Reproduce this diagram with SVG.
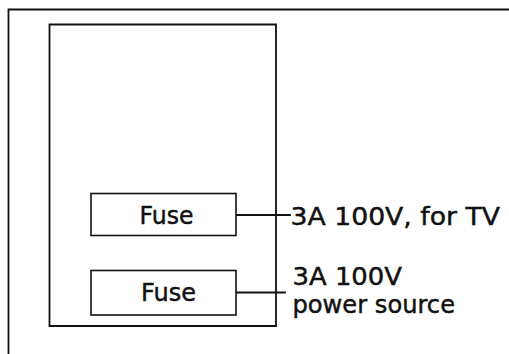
<svg xmlns="http://www.w3.org/2000/svg" width="509" height="354" viewBox="0 0 509 354">
<style>
.ln{fill:none;stroke:#111;stroke-width:1.8;stroke-linecap:square}
.bx{fill:#fff;stroke:#111;stroke-width:1.6}
.t{font-family:"DejaVu Sans","Liberation Sans",Arial,sans-serif;fill:#111;stroke:#111;stroke-width:0.45}
</style>
<rect width="509" height="354" fill="#fff"/>
<g id="frame">
<path class="ln" d="M509 9.5 H8.5 V354"/>
</g>
<g id="panel">
<path class="ln" d="M49.5 24.5 H276 V326 H49.5 Z"/>
</g>
<g id="connectors">
<path class="ln" d="M236 215 H290"/>
<path class="ln" d="M236 292.5 H285"/>
</g>
<g id="fuse1">
<rect class="bx" x="91" y="193.5" width="145" height="42"/>
<text class="t" x="139.5" y="223.8" font-size="24" textLength="54" lengthAdjust="spacingAndGlyphs">Fuse</text>
</g>
<g id="fuse2">
<rect class="bx" x="91" y="270.5" width="145" height="44.5"/>
<text class="t" x="141" y="300.7" font-size="24" textLength="55" lengthAdjust="spacingAndGlyphs">Fuse</text>
</g>
<g id="label1">
<text class="t" x="290.5" y="225" font-size="25" textLength="209.5" lengthAdjust="spacingAndGlyphs">3A 100V, for TV</text>
</g>
<g id="label2">
<text class="t" x="292.5" y="284.5" font-size="24" textLength="109.5" lengthAdjust="spacingAndGlyphs">3A 100V</text>
<text class="t" x="292.5" y="313" font-size="24" textLength="162.5" lengthAdjust="spacingAndGlyphs">power source</text>
</g>
</svg>
